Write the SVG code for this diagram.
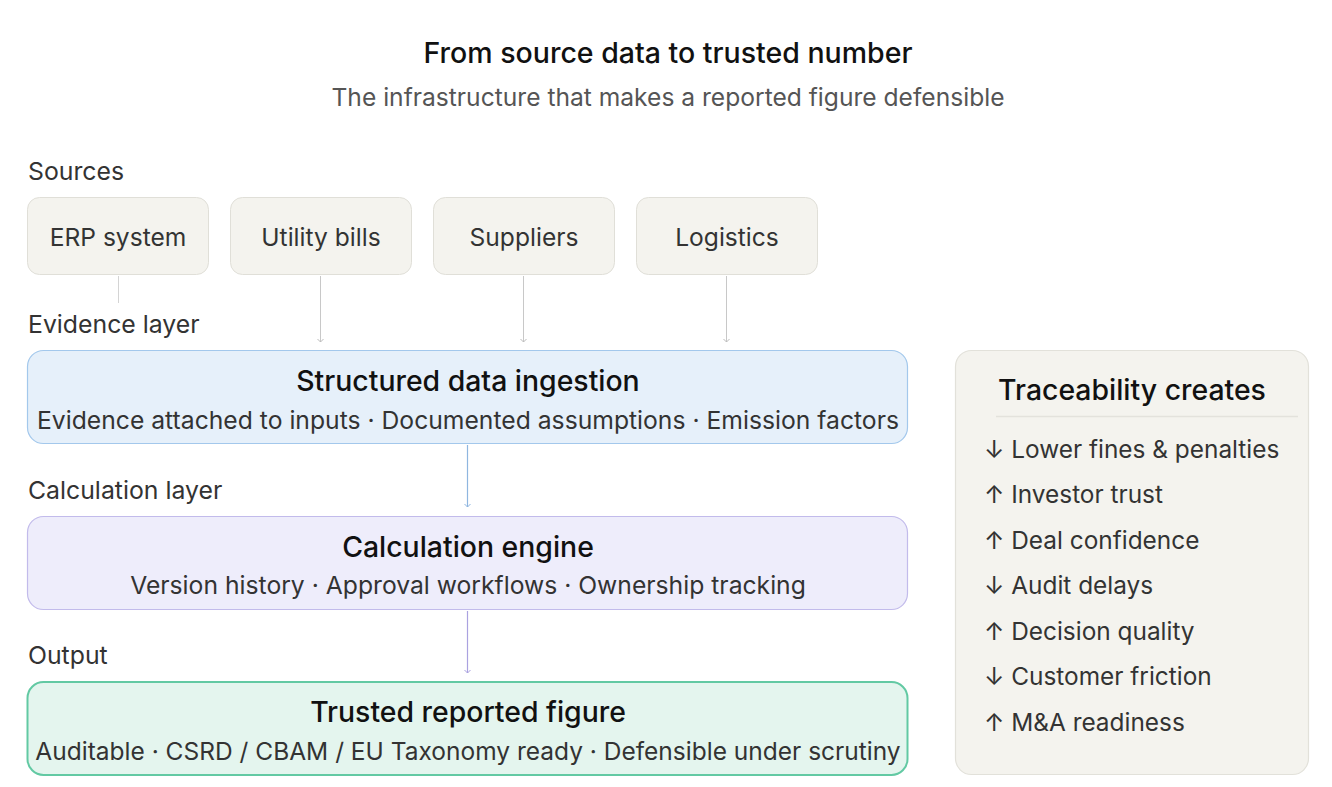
<svg xmlns="http://www.w3.org/2000/svg" width="1332" height="787" viewBox="0 0 1332 787">
<defs>
<style>
text{font-family:Inter,"Noto Sans","Liberation Sans",sans-serif;}
.title{font-size:28.5px;font-weight:500;fill:#111;text-anchor:middle;}
.sub{font-size:24.6px;fill:#555;text-anchor:middle;}
.lbl{font-size:24.8px;fill:#333;}
.src{fill:#f4f3ee;stroke:#e0dfd8;stroke-width:1;}
.srct{font-size:24.6px;fill:#333;text-anchor:middle;}
.bt{font-size:28.4px;font-weight:500;fill:#111;text-anchor:middle;}
.bs{font-size:24.7px;fill:#333;text-anchor:middle;}
.item{font-size:24.4px;fill:#333;}
</style>
<marker id="ag" viewBox="0 0 8 8" refX="4" refY="7" markerWidth="8" markerHeight="8" markerUnits="userSpaceOnUse"><path d="M1,4 L4,7 L7,4" fill="none" stroke="#bbb" stroke-width="1"/></marker>
<marker id="ab" viewBox="0 0 8 8" refX="4" refY="7" markerWidth="8" markerHeight="8" markerUnits="userSpaceOnUse"><path d="M1,4 L4,7 L7,4" fill="none" stroke="#8fb6e0" stroke-width="1"/></marker>
<marker id="ap" viewBox="0 0 8 8" refX="4" refY="7" markerWidth="8" markerHeight="8" markerUnits="userSpaceOnUse"><path d="M1,4 L4,7 L7,4" fill="none" stroke="#aaa2e0" stroke-width="1"/></marker>
</defs>
<rect width="1332" height="787" fill="#ffffff"/>
<g id="header">
<text class="title" x="668" y="63">From source data to trusted number</text>
<text class="sub" x="668" y="106">The infrastructure that makes a reported figure defensible</text>
</g>
<g id="labels">
<text class="lbl" x="28" y="180">Sources</text>
<text class="lbl" x="28" y="333">Evidence layer</text>
<text class="lbl" x="28" y="499">Calculation layer</text>
<text class="lbl" x="28" y="664">Output</text>
</g>
<g id="connectors">
<line x1="118.5" y1="276" x2="118.5" y2="303" stroke="#d4d4d4" stroke-width="1"/>
<line x1="320.5" y1="276" x2="320.5" y2="342" stroke="#c8c8c8" stroke-width="1" marker-end="url(#ag)"/>
<line x1="523.5" y1="276" x2="523.5" y2="342" stroke="#c8c8c8" stroke-width="1" marker-end="url(#ag)"/>
<line x1="726.5" y1="276" x2="726.5" y2="342" stroke="#c8c8c8" stroke-width="1" marker-end="url(#ag)"/>
<line x1="467.5" y1="445" x2="467.5" y2="507" stroke="#8fb6e0" stroke-width="1.2" marker-end="url(#ab)"/>
<line x1="467.5" y1="611" x2="467.5" y2="673" stroke="#aaa2e0" stroke-width="1.2" marker-end="url(#ap)"/>
</g>
<g id="src-erp"><rect class="src" x="27.5" y="197.5" width="181" height="77" rx="12"/><text class="srct" x="118" y="246">ERP system</text></g>
<g id="src-utility"><rect class="src" x="230.5" y="197.5" width="181" height="77" rx="12"/><text class="srct" x="321" y="246">Utility bills</text></g>
<g id="src-suppliers"><rect class="src" x="433.5" y="197.5" width="181" height="77" rx="12"/><text class="srct" x="524" y="246">Suppliers</text></g>
<g id="src-logistics"><rect class="src" x="636.5" y="197.5" width="181" height="77" rx="12"/><text class="srct" x="727" y="246">Logistics</text></g>
<g id="ingestion">
<rect x="27.5" y="350.5" width="880" height="93" rx="16" fill="#e6f0fa" stroke="#a3c8ec" stroke-width="1.2"/>
<text class="bt" x="468" y="391">Structured data ingestion</text>
<text class="bs" x="468" y="429">Evidence attached to inputs · Documented assumptions · Emission factors</text>
</g>
<g id="calculation">
<rect x="27.5" y="516.5" width="880" height="93" rx="16" fill="#eeedfb" stroke="#c2bbeb" stroke-width="1.2"/>
<text class="bt" x="468" y="557">Calculation engine</text>
<text class="bs" x="468" y="594">Version history · Approval workflows · Ownership tracking</text>
</g>
<g id="output">
<rect x="27.5" y="682" width="880" height="93" rx="16" fill="#e4f5ee" stroke="#62c9a3" stroke-width="2"/>
<text class="bt" x="468" y="722">Trusted reported figure</text>
<text class="bs" x="468" y="760" style="font-size:24.5px">Auditable · CSRD / CBAM / EU Taxonomy ready · Defensible under scrutiny</text>
</g>
<g id="traceability">
<rect x="955.5" y="350.5" width="353" height="424" rx="16" fill="#f4f3ee" stroke="#e2e1da" stroke-width="1.2"/>
<text class="bt" x="1132" y="400">Traceability creates</text>
<line x1="996" y1="416.5" x2="1298" y2="416.5" stroke="#e3e2dc" stroke-width="1.5"/>
<text class="item" x="984" y="458">↓ Lower fines &amp; penalties</text>
<text class="item" x="984" y="503">↑ Investor trust</text>
<text class="item" x="984" y="549">↑ Deal confidence</text>
<text class="item" x="984" y="594">↓ Audit delays</text>
<text class="item" x="984" y="640">↑ Decision quality</text>
<text class="item" x="984" y="685">↓ Customer friction</text>
<text class="item" x="984" y="731">↑ M&amp;A readiness</text>
</g>
</svg>
